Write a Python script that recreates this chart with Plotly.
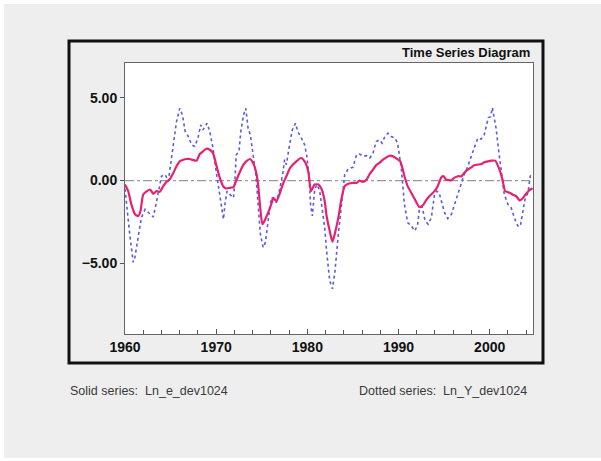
import plotly.graph_objects as go

# Solid series: Ln_e_dev1024 (time in years, value)
solid_t = [1960.0, 1960.35, 1960.7, 1961.1, 1961.45, 1961.7, 1962.0, 1962.4, 1962.75, 1963.1,
           1963.45, 1963.8, 1964.2, 1964.55, 1964.9, 1965.3, 1965.65, 1966.0, 1966.4, 1966.75,
           1967.1, 1967.45, 1967.85, 1968.2, 1968.55, 1968.9, 1969.3, 1969.65, 1970.0, 1970.4,
           1970.8, 1971.1, 1971.5, 1971.9, 1972.2, 1972.6, 1973.0, 1973.3, 1973.7, 1974.05,
           1974.4, 1974.6, 1974.8, 1975.07, 1975.3, 1975.7, 1976.1, 1976.25, 1976.6, 1977.0,
           1977.3, 1977.7, 1978.1, 1978.4, 1978.8, 1979.3, 1979.7, 1980.1, 1980.4, 1980.8,
           1981.2, 1981.55, 1981.9, 1982.1, 1982.45, 1982.75, 1983.0, 1983.4, 1983.7, 1984.1,
           1984.5, 1985.0, 1985.4, 1985.7, 1986.1, 1986.5, 1986.8, 1987.2, 1987.6, 1987.9,
           1988.3, 1988.7, 1989.0, 1989.4, 1989.8, 1990.2, 1990.65, 1991.0, 1991.4, 1991.8,
           1992.3, 1992.7, 1993.0, 1993.4, 1993.95, 1994.3, 1994.7, 1994.95, 1995.2, 1995.8,
           1996.1, 1996.5, 1996.9, 1997.2, 1997.6, 1998.0, 1998.3, 1998.7, 1999.1, 1999.4,
           1999.8, 2000.2, 2000.6, 2001.0, 2001.4, 2001.7, 2002.2, 2002.5, 2002.9, 2003.3,
           2003.6, 2004.0, 2004.35, 2004.7]
solid_v = [-0.24, -0.64, -1.44, -2.04, -2.14, -1.84, -0.84, -0.64, -0.54, -0.80,
           -0.64, -0.68, -0.34, -0.08, 0.06, 0.46, 0.86, 1.16, 1.26, 1.30,
           1.30, 1.24, 1.20, 1.60, 1.76, 1.92, 1.86, 1.66, 0.96, 0.16,
           -0.38, -0.48, -0.44, -0.40, 0.00, 0.52, 0.96, 1.16, 1.30, 1.06,
           0.46, -0.24, -1.44, -2.64, -2.44, -1.94, -1.34, -1.04, -1.24, -0.74,
           -0.24, 0.26, 0.76, 0.96, 1.16, 1.36, 1.16, 0.56, -0.64, -0.24,
           -0.24, -0.50, -1.24, -2.10, -3.04, -3.70, -3.24, -2.24, -1.24, -0.34,
           -0.20, -0.14, -0.14, 0.00, -0.08, 0.06, 0.36, 0.66, 0.96, 1.06,
           1.26, 1.40, 1.50, 1.46, 1.32, 1.16, 0.26, -0.34, -0.74, -1.14,
           -1.60, -1.48, -1.22, -0.94, -0.64, -0.34, 0.20, 0.26, 0.06, 0.02,
           0.16, 0.26, 0.26, 0.46, 0.66, 0.80, 0.92, 0.96, 1.00, 1.10,
           1.16, 1.20, 1.20, 0.76, 0.06, -0.64, -0.74, -0.84, -0.94, -1.20,
           -1.08, -0.80, -0.58, -0.46]

# Dotted series: Ln_Y_dev1024 (time in years, value)
dotted_t = [1960.0, 1960.2, 1960.35, 1960.55, 1960.9, 1961.1, 1961.45, 1961.8, 1962.2, 1962.55,
            1962.9, 1963.1, 1963.4, 1963.65, 1964.0, 1964.4, 1964.75, 1964.9, 1965.3, 1965.65,
            1966.0, 1966.3, 1966.6, 1966.95, 1967.3, 1967.65, 1968.0, 1968.3, 1968.55, 1969.0,
            1969.3, 1969.65, 1970.0, 1970.4, 1970.6, 1970.8, 1971.0, 1971.2, 1971.5, 1971.9,
            1972.05, 1972.2, 1972.5, 1972.7, 1973.0, 1973.25, 1973.5, 1973.75, 1974.05, 1974.35,
            1974.6, 1974.85, 1975.15, 1975.4, 1975.7, 1976.05, 1976.3, 1976.6, 1977.0, 1977.35,
            1977.5, 1977.7, 1978.05, 1978.35, 1978.7, 1978.95, 1979.35, 1979.7, 1979.95, 1980.2,
            1980.35, 1980.55, 1980.8, 1981.05, 1981.35, 1981.6, 1981.9, 1982.1, 1982.45, 1982.75,
            1983.0, 1983.4, 1983.75, 1984.1, 1984.5, 1985.0, 1985.4, 1985.75, 1986.1, 1986.5,
            1986.85, 1987.2, 1987.55, 1987.9, 1988.2, 1988.5, 1988.85, 1989.2, 1989.6, 1989.9,
            1990.3, 1990.65, 1991.0, 1991.4, 1991.8, 1992.1, 1992.3, 1992.6, 1992.9, 1993.25,
            1993.6, 1993.95, 1994.2, 1994.45, 1994.7, 1995.05, 1995.4, 1995.8, 1996.15, 1996.5,
            1996.85, 1997.2, 1997.6, 1997.95, 1998.3, 1998.7, 1999.05, 1999.4, 1999.6, 1999.85,
            2000.1, 2000.3, 2000.5, 2000.7, 2000.95, 2001.25, 2001.6, 2002.0, 2002.35, 2002.65,
            2002.9, 2003.15, 2003.4, 2003.65, 2003.9, 2004.2, 2004.45, 2004.6]
dotted_v = [-0.50, -1.60, -2.40, -3.40, -4.94, -4.60, -3.40, -2.24, -1.74, -1.94,
            -2.14, -2.20, -1.44, -0.64, 0.26, 0.36, -0.04, 0.56, 2.16, 3.56,
            4.36, 3.96, 2.96, 2.66, 2.16, 2.06, 2.56, 3.36, 3.06, 3.46,
            2.96, 1.96, 0.56, -0.84, -1.50, -2.34, -1.24, -0.64, -0.84, -1.04,
            -0.04, 1.56, 1.76, 2.96, 3.96, 4.36, 3.16, 2.76, 1.56, 0.36,
            -1.44, -3.24, -4.04, -3.74, -2.44, -1.04, -1.14, -1.34, -0.44, 0.56,
            1.26, 0.96, 2.16, 3.06, 3.46, 2.96, 2.56, 2.16, 1.46, 0.16,
            -1.44, -2.14, -0.54, -0.24, -0.60, -1.50, -2.84, -4.20, -6.04, -6.54,
            -5.64, -3.24, -1.44, 0.36, 0.72, 0.80, 1.56, 1.60, 1.46, 1.50,
            1.36, 1.66, 2.36, 2.46, 2.26, 2.66, 2.86, 2.66, 2.56, 2.26,
            0.76, -1.44, -2.54, -2.74, -3.04, -2.64, -1.64, -1.60, -2.40, -2.64,
            -2.24, -0.84, -0.64, -0.74, -1.24, -1.94, -2.30, -2.04, -1.44, -0.84,
            -0.34, 0.36, 0.86, 1.46, 1.96, 2.56, 2.50, 2.76, 3.26, 3.80,
            3.86, 4.40, 3.76, 3.16, 1.96, 0.56, -0.84, -1.44, -1.64, -2.14,
            -2.54, -2.80, -2.64, -1.84, -1.04, -0.74, 0.26, 0.46]

y_ticks = [-5, 0, 5]
x_ticks = [1960, 1970, 1980, 1990, 2000]

fig = go.Figure()

# zero reference line
fig.add_trace(go.Scatter(
    x=[1960, 2004.75], y=[0, 0], mode="lines",
    line=dict(color="#9a9a9a", width=1.2, dash="dashdot"),
    hoverinfo="skip", showlegend=False))

fig.add_trace(go.Scatter(
    x=dotted_t, y=dotted_v, mode="lines", name="Ln_Y_dev1024",
    line=dict(color="#5c5cdc", width=1.6, dash="dot"),
    showlegend=False))

fig.add_trace(go.Scatter(
    x=solid_t, y=solid_v, mode="lines", name="Ln_e_dev1024",
    line=dict(color="#e8206e", width=2.2, shape="spline", smoothing=0.6),
    showlegend=False))

W, H = 601, 461
L, R, T, B = 125, 533, 63, 334  # plot area in pixels


def px(x):
    return (x - L) / (R - L)


def py(y):
    return (B - y) / (B - T)


fig.update_layout(
    width=W, height=H,
    margin=dict(l=L, r=W - R, t=T, b=H - B, pad=0),
    paper_bgcolor="white",
    plot_bgcolor="white",
    font=dict(family="Liberation Sans, Arial, sans-serif", color="#111"),
    xaxis=dict(
        range=[1960, 2004.75], tickvals=x_ticks, ticks="inside", ticklen=5,
        tickcolor="#555", tickwidth=1,
        minor=dict(dtick=2, tick0=1960, ticks="inside", ticklen=4, tickcolor="#555"),
        showgrid=False, zeroline=False,
        showline=True, linecolor="#666", linewidth=1, mirror=True,
        tickfont=dict(size=14, family="Liberation Sans, Arial, sans-serif", weight="bold", color="#111"),
    ),
    yaxis=dict(
        range=[-9.27, 7.1], tickvals=y_ticks, tickformat=".2f",
        ticks="outside", ticklen=4, tickcolor="#555", tickwidth=1,
        showgrid=False, zeroline=False,
        showline=True, linecolor="#666", linewidth=1, mirror=True,
        tickfont=dict(size=14, family="Liberation Sans, Arial, sans-serif", weight="bold", color="#111"),
    ),
    shapes=[
        # light gray page panel
        dict(type="rect", xref="paper", yref="paper", layer="below",
             x0=px(4), x1=px(601), y0=py(458), y1=py(4),
             fillcolor="#eeeeee", line=dict(width=0)),
        # white plotting field
        dict(type="rect", xref="paper", yref="paper", layer="below",
             x0=0, x1=1, y0=0, y1=1,
             fillcolor="white", line=dict(width=0)),
        # thick black frame
        dict(type="rect", xref="paper", yref="paper",
             x0=px(69), x1=px(543), y0=py(363), y1=py(41),
             line=dict(color="#111", width=3), fillcolor="rgba(0,0,0,0)"),
    ],
    annotations=[
        dict(text="<b>Time Series Diagram</b>", xref="paper", yref="paper",
             x=px(532), y=py(52), xanchor="right", yanchor="middle", showarrow=False,
             font=dict(size=13, color="#111")),
        dict(text="Solid series:  Ln_e_dev1024", xref="paper", yref="paper",
             x=px(68), y=py(391), xanchor="left", yanchor="middle", showarrow=False,
             font=dict(size=12.5, color="#3a3a3a")),
        dict(text="Dotted series:  Ln_Y_dev1024", xref="paper", yref="paper",
             x=px(529), y=py(391), xanchor="right", yanchor="middle", showarrow=False,
             font=dict(size=12.5, color="#3a3a3a")),
    ],
)

fig.write_html("out.html")
